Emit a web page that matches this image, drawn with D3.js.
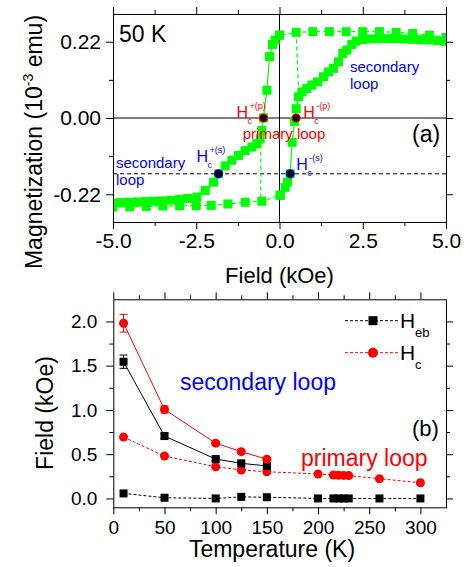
<!DOCTYPE html>
<html><head><meta charset="utf-8">
<script src="https://cdn.jsdelivr.net/npm/d3@7"></script>
<style>body{margin:0;background:#fff} svg text{font-family:"Liberation Sans",Arial,sans-serif}</style>
</head><body><svg id="c" width="468" height="567"></svg>
<script>
// ---------- Panel (a): M-H loop at 50 K ----------
// descending branch, high-field plateau (dashed guide)
const descTopX = [5, 4.5, 4, 3.5, 3, 2.5, 2, 1.5, 1, 0.5, 0];
const descTopM = [0.232, 0.239, 0.244, 0.247, 0.249, 0.249, 0.249, 0.249, 0.249, 0.247, 0.239];
// descending branch, switching + tail (solid)
const descFallX = [0, -0.13, -0.21, -0.3, -0.38, -0.48, -0.53, -0.58, -0.68, -0.83, -1.03, -1.23, -1.43, -1.63, -1.83, -1.98, -2.23, -2.48, -2.75, -3.0, -3.25, -3.5, -3.75, -4.0, -4.25, -4.5, -4.75, -5];
const descFallM = [0.239, 0.225, 0.212, 0.177, 0.08, 0.0, -0.036, -0.06, -0.074, -0.084, -0.094, -0.108, -0.122, -0.138, -0.161, -0.185, -0.209, -0.228, -0.232, -0.235, -0.237, -0.239, -0.24, -0.241, -0.242, -0.243, -0.244, -0.245];
// ascending branch, low-field plateau (dashed guide)
const ascBotX = [-5, -4.5, -4, -3.5, -3, -2.5, -2.05, -1.55, -1.03, -0.53, 0.02];
const ascBotM = [-0.257, -0.256, -0.255, -0.254, -0.253, -0.253, -0.252, -0.248, -0.243, -0.24, -0.223];
// ascending branch, switching + tail (solid)
const ascRiseX = [0.02, 0.17, 0.24, 0.32, 0.38, 0.45, 0.5, 0.57, 0.67, 0.82, 0.97, 1.14, 1.32, 1.47, 1.62, 1.77, 1.9, 2.02, 2.17, 2.3, 2.5, 2.75, 3.0, 3.25, 3.5, 3.75, 4.0, 4.25, 4.5, 4.75, 5.0];
const ascRiseM = [-0.223, -0.2, -0.185, -0.161, -0.07, -0.01, 0.027, 0.061, 0.075, 0.085, 0.095, 0.104, 0.119, 0.133, 0.143, 0.162, 0.186, 0.196, 0.212, 0.222, 0.226, 0.228, 0.229, 0.229, 0.229, 0.228, 0.227, 0.226, 0.225, 0.223, 0.221];
// primary-loop dashed guides
const guideRX = [0.5, 0.58], guideRM = [0.247, 0.061];
const guideLX = [-0.56, -0.56], guideLM = [-0.036, -0.238];
// coercive field markers
const hcNames = ["+(p)", "-(p)", "+(s)", "-(s)"];
const hcX = [-0.48, 0.5, -1.83, 0.32];
const hcM = [0, 0, -0.161, -0.161];
const secLevel = -0.161;
const aXTicks = [-5, -2.5, 0, 2.5, 5], aXMinor = [-3.75, -1.25, 1.25, 3.75];
const aYTicks = [-0.22, 0, 0.22], aYMinor = [-0.11, 0.11];

// ---------- Panel (b): fields vs temperature ----------
const tSec = [10, 50, 100, 125, 150];
const hebSec = [1.545, 0.705, 0.445, 0.397, 0.367];
const hebSecErr = [0.075, 0.03, 0.02, 0.02, 0.02];
const hcSec = [1.98, 1.005, 0.625, 0.529, 0.443];
const hcSecErr = [0.1, 0.04, 0.02, 0.02, 0.02];
const tPri = [10, 50, 100, 125, 150, 200, 215, 220, 225, 230, 260, 300];
const hebPri = [0.057, 0.008, 0.0, 0.018, 0.014, 0.0, 0.0, 0.0, 0.0, 0.0, 0.0, 0.0];
const hcPri = [0.694, 0.479, 0.358, 0.322, 0.302, 0.276, 0.265, 0.262, 0.26, 0.258, 0.223, 0.178];
const bXTicks = [0, 50, 100, 150, 200, 250, 300], bXMinor = [25, 75, 125, 175, 225, 275];
const bYTicks = [0, 0.5, 1.0, 1.5, 2.0], bYMinor = [0.25, 0.75, 1.25, 1.75];

const GREEN = "#00ff00", RED = "#ff0000", BLUE = "#0000ff";
const svg = d3.select("#c");
const zip = (a, b) => a.map((v, i) => [v, b[i]]);

function drawAxes(x, y, o) {
  const [x0, x1] = x.range(), [y0, y1] = y.range();
  const g = svg.append("g");
  const style = sel => {
    sel.select(".domain").remove();
    sel.attr("font-family", '"Liberation Sans",Arial,sans-serif').attr("font-size", o.font);
    sel.selectAll("text").attr("fill", "#000");
    sel.selectAll("line").attr("stroke", "#000");
  };
  g.append("g").attr("transform", `translate(0,${y0})`)
    .call(d3.axisBottom(x).tickValues(o.xt).tickSize(o.maj).tickPadding(o.px).tickFormat(o.xf)).call(style);
  g.append("g").attr("transform", `translate(0,${y0})`)
    .call(d3.axisBottom(x).tickValues(o.xm).tickSize(o.min).tickFormat("")).call(style);
  g.append("g").attr("transform", `translate(0,${y1})`)
    .call(d3.axisTop(x).tickValues(o.xt).tickSize(o.maj).tickFormat("")).call(style);
  g.append("g").attr("transform", `translate(0,${y1})`)
    .call(d3.axisTop(x).tickValues(o.xm).tickSize(o.min).tickFormat("")).call(style);
  g.append("g").attr("transform", `translate(${x0},0)`)
    .call(d3.axisLeft(y).tickValues(o.yt).tickSize(o.maj).tickPadding(o.py).tickFormat(o.yf)).call(style);
  g.append("g").attr("transform", `translate(${x0},0)`)
    .call(d3.axisLeft(y).tickValues(o.ym).tickSize(o.min).tickFormat("")).call(style);
  g.append("g").attr("transform", `translate(${x1},0)`)
    .call(d3.axisRight(y).tickValues(o.yt).tickSize(o.maj).tickFormat("")).call(style);
  g.append("g").attr("transform", `translate(${x1},0)`)
    .call(d3.axisRight(y).tickValues(o.ym).tickSize(o.min).tickFormat("")).call(style);
  svg.append("rect").attr("x", x0 + 0.5).attr("y", y1 + 0.5).attr("width", x1 - x0).attr("height", y0 - y1)
    .attr("fill", "none").attr("stroke", "#000").attr("stroke-width", 1);
}

function txt(x, y, s, size, color, anchor) {
  return svg.append("text").attr("x", x).attr("y", y).attr("font-size", size)
    .attr("fill", color || "#000").attr("text-anchor", anchor || "start").text(s);
}

// ===== Panel (a) =====
const xa = d3.scaleLinear([-5, 5], [113, 446]);
const ya = d3.scaleLinear([-0.3, 0.3], [222, 14]);
svg.append("clipPath").attr("id", "clipA").append("rect")
  .attr("x", 113.5).attr("y", 14.5).attr("width", 333).attr("height", 208);
const pa = svg.append("g").attr("clip-path", "url(#clipA)");

// reference lines
pa.append("line").attr("x1", xa(-5)).attr("x2", xa(5)).attr("y1", ya(0)).attr("y2", ya(0)).attr("stroke", "#000");
pa.append("line").attr("x1", xa(0)).attr("x2", xa(0)).attr("y1", ya(0.3)).attr("y2", ya(-0.3)).attr("stroke", "#000");
pa.append("line").attr("x1", xa(-5)).attr("x2", xa(5)).attr("y1", ya(secLevel)).attr("y2", ya(secLevel))
  .attr("stroke", "#000").attr("stroke-dasharray", "4,3");

const lineA = d3.line().x(d => xa(d[0])).y(d => ya(d[1]));
const solidSets = [zip(descFallX, descFallM), zip(ascRiseX, ascRiseM)];
const dashSets = [zip(descTopX, descTopM), zip(ascBotX, ascBotM), zip(guideRX, guideRM), zip(guideLX, guideLM)];
solidSets.forEach(s => pa.append("path").attr("d", lineA(s)).attr("fill", "none").attr("stroke", GREEN).attr("stroke-width", 1.2));
dashSets.forEach(s => pa.append("path").attr("d", lineA(s)).attr("fill", "none").attr("stroke", GREEN).attr("stroke-width", 1.2).attr("stroke-dasharray", "4,3"));

const allPts = [].concat(zip(descTopX, descTopM), zip(descFallX, descFallM), zip(ascBotX, ascBotM), zip(ascRiseX, ascRiseM));
const SQ = 9;
pa.selectAll("rect.sq").data(allPts).join("rect").attr("class", "sq")
  .attr("x", d => xa(d[0]) - SQ / 2).attr("y", d => ya(d[1]) - SQ / 2)
  .attr("width", SQ).attr("height", SQ).attr("fill", GREEN);

// coercive-field dots
const hcCol = [RED, RED, BLUE, BLUE];
pa.selectAll("circle.hc").data(hcX).join("circle").attr("class", "hc")
  .attr("cx", (d) => xa(d)).attr("cy", (d, i) => ya(hcM[i])).attr("r", 4)
  .attr("fill", "#000").attr("stroke", (d, i) => hcCol[i]).attr("stroke-width", 1.2);

// Hc labels (offsets relative to dot)
const hcLab = [
  { dx: -27, dy: 0 },
  { dx: 7, dy: 0 },
  { dx: -22, dy: -12 },
  { dx: 6, dy: -4 }
];
hcX.forEach((h, i) => {
  const cx = xa(h), cy = ya(hcM[i]), L = hcLab[i], col = hcCol[i];
  txt(cx + L.dx, cy + L.dy, "H", 16, col);
  txt(cx + L.dx + 11, cy + L.dy + 6, "c", 9, col);
  txt(cx + L.dx + 13, cy + L.dy - 9, hcNames[i], 9, col);
});

drawAxes(xa, ya, {
  xt: aXTicks, xm: aXMinor, yt: aYTicks, ym: aYMinor, maj: 7, min: 4, px: 4, py: 5, font: 21,
  xf: d => d.toFixed(1), yf: d => (Math.abs(d) < 1e-9 ? 0 : d).toFixed(2)
});

txt(119, 42, "50 K", 23);
txt(412, 142, "(a)", 23);
txt(350, 72, "secondary", 15, BLUE);
txt(350, 89, "loop", 15, BLUE);
txt(116, 168, "secondary", 15, BLUE);
txt(116, 185, "loop", 15, BLUE);
txt(284, 138.5, "primary loop", 15, RED, "middle");
txt(279.5, 283, "Field (kOe)", 22, "#000", "middle");
const ytA = svg.append("text").attr("transform", "translate(42,142) rotate(-90)")
  .attr("text-anchor", "middle").attr("font-size", 23).attr("fill", "#000");
ytA.append("tspan").text("Magnetization (10");
ytA.append("tspan").attr("font-size", 14).attr("dy", -9).text("-3");
ytA.append("tspan").attr("dy", 9).text(" emu)");

// ===== Panel (b) =====
const xb = d3.scaleLinear([0, 325], [113.3, 446]);
const yb = d3.scaleLinear([-0.1, 2.25], [507.3, 299.3]);
const lineB = d3.line().x(d => xb(d[0])).y(d => yb(d[1]));

const seriesB = [
  { t: tPri, v: hebPri, col: "#000", dash: "3,2", shape: "sq" },
  { t: tPri, v: hcPri, col: RED, dash: "3,2", shape: "ci" },
  { t: tSec, v: hebSec, e: hebSecErr, col: "#000", dash: null, shape: "sq" },
  { t: tSec, v: hcSec, e: hcSecErr, col: RED, dash: null, shape: "ci" }
];
seriesB.forEach(s => {
  const pts = zip(s.t, s.v);
  const p = svg.append("path").attr("d", lineB(pts)).attr("fill", "none").attr("stroke", s.col).attr("stroke-width", 1);
  if (s.dash) p.attr("stroke-dasharray", s.dash);
  if (s.e) {
    s.t.forEach((t, i) => {
      const x = xb(t), y0 = yb(s.v[i] - s.e[i]), y1 = yb(s.v[i] + s.e[i]);
      svg.append("line").attr("x1", x).attr("x2", x).attr("y1", y0).attr("y2", y1).attr("stroke", s.col);
      [y0, y1].forEach(yy => svg.append("line").attr("x1", x - 4).attr("x2", x + 4).attr("y1", yy).attr("y2", yy).attr("stroke", s.col));
    });
  }
  if (s.shape === "sq") {
    svg.append("g").selectAll("rect").data(pts).join("rect")
      .attr("x", d => xb(d[0]) - 4).attr("y", d => yb(d[1]) - 4).attr("width", 8).attr("height", 8).attr("fill", s.col);
  } else {
    svg.append("g").selectAll("circle").data(pts).join("circle")
      .attr("cx", d => xb(d[0])).attr("cy", d => yb(d[1])).attr("r", 4.5).attr("fill", s.col);
  }
});

drawAxes(xb, yb, {
  xt: bXTicks, xm: bXMinor, yt: bYTicks, ym: bYMinor, maj: 7, min: 4, px: 6, py: 9, font: 19,
  xf: d => String(d), yf: d => d.toFixed(1)
});

// legend
const legY = [320.7, 352.7];
[["#000", "sq", "eb"], [RED, "ci", "c"]].forEach((l, i) => {
  const y = legY[i];
  svg.append("line").attr("x1", 345).attr("x2", 399).attr("y1", y).attr("y2", y)
    .attr("stroke", l[0]).attr("stroke-dasharray", "3,2");
  if (l[1] === "sq") svg.append("rect").attr("x", 368.5).attr("y", y - 4.5).attr("width", 9).attr("height", 9).attr("fill", l[0]);
  else svg.append("circle").attr("cx", 373).attr("cy", y).attr("r", 5).attr("fill", l[0]);
  txt(400, y + 7.5, "H", 21);
  txt(415, y + 16, l[2], 13);
});

txt(180, 390, "secondary loop", 23, BLUE);
txt(301, 466, "primary loop", 23, RED);
txt(412, 436, "(b)", 22);
txt(272, 557, "Temperature (K)", 23, "#000", "middle");
svg.append("text").attr("transform", "translate(53,413) rotate(-90)")
  .attr("text-anchor", "middle").attr("font-size", 23).attr("fill", "#000").text("Field (kOe)");
</script></body></html>
